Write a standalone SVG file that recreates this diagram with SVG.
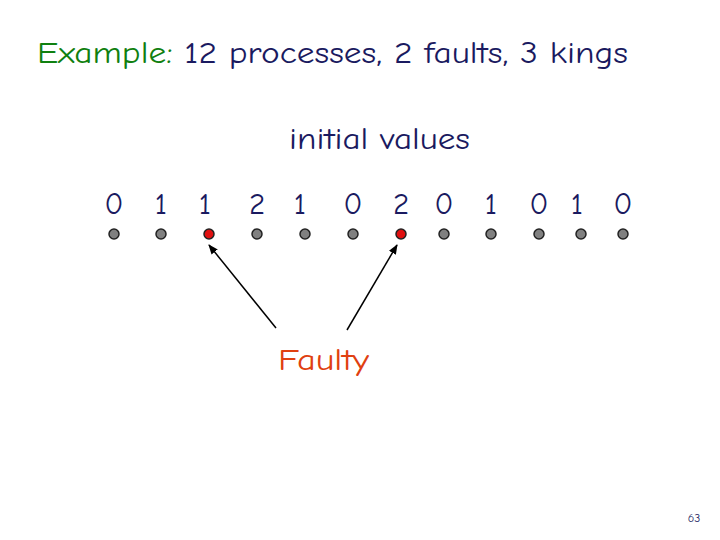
<svg xmlns="http://www.w3.org/2000/svg" width="720" height="540" viewBox="0 0 720 540">
<style>
text{font-family:"Comic Neue","DejaVu Sans","Liberation Sans",sans-serif;fill:#1a1a60}
.n{font-size:31px;text-anchor:middle}
.d{fill:#808080;stroke:#222;stroke-width:1.5}
.f{fill:#e01010;stroke:#222;stroke-width:1.5}
</style>
<defs><marker id="a" markerWidth="10" markerHeight="10" refX="9" refY="5" orient="auto" markerUnits="userSpaceOnUse"><path d="M0,1 L10,5 L0,9 Z" fill="#000"/></marker></defs>
<text x="37" y="63" font-size="31" textLength="591" lengthAdjust="spacingAndGlyphs"><tspan fill="#108010">Example:</tspan> 12 processes, 2 faults, 3 kings</text>
<text x="289" y="149" font-size="31" textLength="181" lengthAdjust="spacingAndGlyphs">initial values</text>
<g id="values">
<text class="n" x="114" y="214">0</text><text class="n" x="161" y="214">1</text><text class="n" x="205" y="214">1</text><text class="n" x="257" y="214">2</text><text class="n" x="300" y="214">1</text><text class="n" x="353" y="214">0</text><text class="n" x="401" y="214">2</text><text class="n" x="444" y="214">0</text><text class="n" x="491" y="214">1</text><text class="n" x="539" y="214">0</text><text class="n" x="577" y="214">1</text><text class="n" x="623" y="214">0</text>
</g>
<g id="p1"><circle class="d" cx="114" cy="234" r="5"/></g>
<g id="p2"><circle class="d" cx="161" cy="234" r="5"/></g>
<g id="p3"><circle class="f" cx="209" cy="234" r="5"/></g>
<g id="p4"><circle class="d" cx="257" cy="234" r="5"/></g>
<g id="p5"><circle class="d" cx="305" cy="234" r="5"/></g>
<g id="p6"><circle class="d" cx="353" cy="234" r="5"/></g>
<g id="p7"><circle class="f" cx="401" cy="234" r="5"/></g>
<g id="p8"><circle class="d" cx="444" cy="234" r="5"/></g>
<g id="p9"><circle class="d" cx="491" cy="234" r="5"/></g>
<g id="p10"><circle class="d" cx="539" cy="234" r="5"/></g>
<g id="p11"><circle class="d" cx="581" cy="234" r="5"/></g>
<g id="p12"><circle class="d" cx="623" cy="234" r="5"/></g>
<g id="connectors" stroke="#000" stroke-width="1.5">
<line x1="276" y1="328" x2="209" y2="245" marker-end="url(#a)"/>
<line x1="347" y1="330" x2="397" y2="245" marker-end="url(#a)"/>
</g>
<g id="faulty"><text x="278" y="370" font-size="31" textLength="91" lengthAdjust="spacingAndGlyphs" style="fill:#e04010">Faulty</text></g>
<text x="694" y="522" font-size="12" text-anchor="middle">63</text>
</svg>
